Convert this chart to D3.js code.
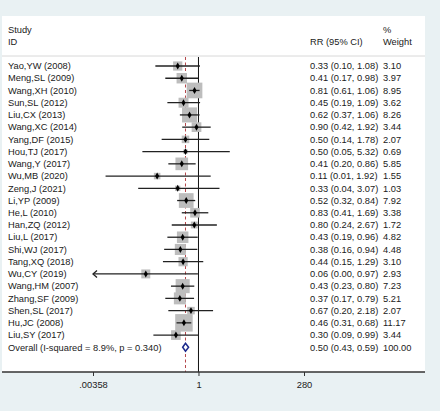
<!DOCTYPE html>
<html><head><meta charset="utf-8">
<script src="https://cdn.jsdelivr.net/npm/d3@7"></script>
<style>body{margin:0;background:#e9f1f3;}svg{display:block;font-family:"Liberation Sans",Arial,Helvetica,sans-serif;}</style>
</head><body>
<svg id="c" width="440" height="411"></svg>
<script>
const studies = ["Yao,YW (2008)","Meng,SL (2009)","Wang,XH (2010)","Sun,SL (2012)","Liu,CX (2013)","Wang,XC (2014)","Yang,DF (2015)","Hou,TJ (2017)","Wang,Y (2017)","Wu,MB (2020)","Zeng,J (2021)","Li,YP (2009)","He,L (2010)","Han,ZQ (2012)","Liu,L (2017)","Shi,WJ (2017)","Tang,XQ (2018)","Wu,CY (2019)","Wang,HM (2007)","Zhang,SF (2009)","Shen,SL (2017)","Hu,JC (2008)","Liu,SY (2017)"];
const rr     = [0.33,0.41,0.81,0.45,0.62,0.90,0.50,0.50,0.41,0.11,0.33,0.52,0.83,0.80,0.43,0.38,0.44,0.06,0.43,0.37,0.67,0.46,0.30];
const lower  = [0.10,0.17,0.61,0.19,0.37,0.42,0.14,0.05,0.20,0.007,0.04,0.32,0.41,0.24,0.19,0.16,0.15,0.002,0.23,0.17,0.20,0.31,0.09];
const upper  = [1.08,0.98,1.06,1.09,1.06,1.92,1.78,5.32,0.86,1.92,3.07,0.84,1.69,2.67,0.96,0.94,1.29,0.97,0.80,0.79,2.18,0.68,0.99];
const weight = [3.10,3.97,8.95,3.62,8.26,3.44,2.07,0.69,5.85,1.55,1.03,7.92,3.38,1.72,4.82,4.48,3.10,2.93,7.23,5.21,2.07,11.17,3.44];
const overall = {label:"Overall  (I-squared = 8.9%, p = 0.340)", rr:0.50, lo:0.43, hi:0.59, w:100};
const tickVals = [0.00358, 1, 280];
const tickLabels = [".00358","1","280"];

const svg = d3.select("#c");
const txt = "#1a1a1a";
svg.append("rect").attr("width",440).attr("height",411).attr("fill","#e9f1f3");
svg.append("rect").attr("x",2).attr("y",16).attr("width",423).attr("height",356).attr("fill","#fff");

const x = d3.scaleLog().domain([0.00358,280]).range([93,304]);
const rows = studies.concat([overall.label]);
const y = d3.scalePoint().domain(rows).range([66,347.3]);
const box = d3.scaleSqrt().domain([0,11.17]).range([0,17.5]);
const yTop = 57, yBottom = 372;

const fs = 9.3;
svg.append("text").attr("x",8).attr("y",33).attr("font-size",fs).attr("fill",txt).text("Study");
svg.append("text").attr("x",8).attr("y",45).attr("font-size",fs).attr("fill",txt).text("ID");
svg.append("text").attr("x",310).attr("y",45).attr("font-size",fs).attr("fill",txt).text("RR (95% CI)");
svg.append("text").attr("x",383).attr("y",33).attr("font-size",fs).attr("fill",txt).text("%");
svg.append("text").attr("x",383).attr("y",45).attr("font-size",fs).attr("fill",txt).text("Weight");
svg.append("line").attr("x1",2).attr("x2",425).attr("y1",56).attr("y2",56).attr("stroke","#d8d8d8").attr("stroke-width",1);

svg.append("line").attr("x1",x(1)).attr("x2",x(1)).attr("y1",yTop).attr("y2",yBottom).attr("stroke","#111").attr("stroke-width",1);
svg.append("line").attr("x1",x(overall.rr)).attr("x2",x(overall.rr)).attr("y1",yTop).attr("y2",yBottom)
  .attr("stroke","#b5474b").attr("stroke-width",1).attr("stroke-dasharray","3,2.5");

const data = studies.map((s,i)=>({s,rr:rr[i],lo:lower[i],hi:upper[i],w:weight[i]}));
const [dmin,dmax] = x.domain();

svg.append("g").selectAll("rect").data(data).join("rect")
  .attr("x",d=>x(d.rr)-box(d.w)/2).attr("y",d=>y(d.s)-box(d.w)/2)
  .attr("width",d=>box(d.w)).attr("height",d=>box(d.w)).attr("fill","#bdbdbd");

const g = svg.append("g");
data.forEach(d=>{
  const lo = Math.max(d.lo,dmin), hi = Math.min(d.hi,dmax);
  const yy = y(d.s);
  g.append("line").attr("x1",x(lo)).attr("x2",x(hi)).attr("y1",yy).attr("y2",yy).attr("stroke","#222").attr("stroke-width",1.3);
  if (d.lo < dmin) {
    const ax = x(dmin);
    g.append("path").attr("d",`M${ax+4},${yy-3.5}L${ax},${yy}L${ax+4},${yy+3.5}`).attr("fill","none").attr("stroke","#222").attr("stroke-width",1.3);
  }
  g.append("path").attr("d",d3.symbol(d3.symbolDiamond,14)()).attr("transform",`translate(${x(d.rr)},${yy})`).attr("fill","#000");
});

const oy = y(overall.label);
svg.append("path").attr("d",`M${x(overall.lo)},${oy}L${x(overall.rr)},${oy-4}L${x(overall.hi)},${oy}L${x(overall.rr)},${oy+4}Z`)
  .attr("fill","#fff").attr("stroke","#1c2a8c").attr("stroke-width",1.5);

const lab = svg.append("g").attr("font-size",fs).attr("fill",txt);
const all = data.concat([{s:overall.label,rr:overall.rr,lo:overall.lo,hi:overall.hi,w:overall.w}]);
lab.selectAll("text.s").data(all).join("text").attr("class","s").attr("x",8).attr("y",d=>y(d.s)).attr("dy","0.35em").text(d=>d.s);
lab.selectAll("text.c").data(all).join("text").attr("class","c").attr("x",310).attr("y",d=>y(d.s)).attr("dy","0.35em")
  .text(d=>`${d.rr.toFixed(2)} (${d.lo.toFixed(2)}, ${d.hi.toFixed(2)})`);
lab.selectAll("text.w").data(all).join("text").attr("class","w").attr("x",383).attr("y",d=>y(d.s)).attr("dy","0.35em")
  .text(d=>d.w.toFixed(2));

const axis = d3.axisBottom(x).tickValues(tickVals).tickFormat((d,i)=>tickLabels[i]).tickSize(4).tickPadding(5);
const ag = svg.append("g").attr("transform",`translate(0,${yBottom})`).call(axis);
ag.select(".domain").remove();
ag.append("line").attr("x1",2).attr("x2",425).attr("stroke","#333").attr("stroke-width",1.5);
ag.selectAll(".tick line").attr("stroke","#333");
ag.selectAll(".tick text").attr("font-size",fs).attr("fill",txt).attr("font-family","Liberation Sans, Arial, sans-serif");
</script>
</body></html>
